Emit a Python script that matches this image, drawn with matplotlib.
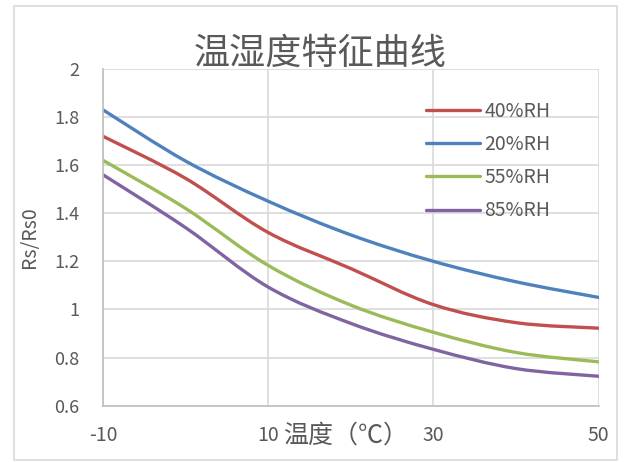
import numpy as np
import matplotlib.pyplot as plt
from matplotlib.patches import Rectangle, PathPatch
from matplotlib.path import Path
from matplotlib.lines import Line2D

plt.rcParams['font.family'] = ['Noto Sans CJK SC', 'DejaVu Sans']
plt.rcParams['axes.unicode_minus'] = False

# temperature (deg C) and Rs/Rs0 per humidity
temps = [-10, 0, 10, 20, 30, 40, 50]

rh40 = [1.72, 1.545, 1.32, 1.17, 1.02, 0.945, 0.922]
rh20 = [1.83, 1.617, 1.45, 1.31, 1.20, 1.115, 1.05]
rh55 = [1.62, 1.42, 1.183, 1.018, 0.905, 0.821, 0.782]
rh85 = [1.56, 1.34, 1.093, 0.942, 0.834, 0.754, 0.722]

series_names = ['40%RH', '20%RH', '55%RH', '85%RH']
series_vals = [rh40, rh20, rh55, rh85]
colors = ['#C0504D', '#4F81BD', '#9BBB59', '#8064A2']

xticks = [-10, 10, 30, 50]
yticks = [0.6, 0.8, 1.0, 1.2, 1.4, 1.6, 1.8, 2.0]
ytick_labels = ['0.6', '0.8', '1', '1.2', '1.4', '1.6', '1.8', '2']


def smooth_path(xs, ys):
    """excel style smoothed line: bezier segments through the data points"""
    pts = np.column_stack([xs, ys]).astype(float)
    n = len(pts)
    verts = [pts[0]]
    codes = [Path.MOVETO]
    for i in range(n - 1):
        p0 = pts[i - 1] if i > 0 else pts[i]
        p1 = pts[i]
        p2 = pts[i + 1]
        p3 = pts[i + 2] if i + 2 < n else pts[i + 1]
        verts += [p1 + (p2 - p0) / 6, p2 - (p3 - p1) / 6, p2]
        codes += [Path.CURVE4] * 3
    return Path(verts, codes)


fig = plt.figure(figsize=(6.3, 4.62), dpi=100)
ax = fig.add_axes([0.1635, 0.1221, 0.7865, 0.7286])

# chart border like excel
fig.patches.append(Rectangle((0.0222, 0.0043), 0.957, 0.983, transform=fig.transFigure,
                             fill=False, edgecolor='#D9D9D9', linewidth=1.2))

handles = []
for name, vals, c in zip(series_names, series_vals, colors):
    ax.add_patch(PathPatch(smooth_path(temps, vals), fill=False, edgecolor=c,
                           linewidth=2.4, capstyle='round'))
    handles.append(Line2D([], [], color=c, linewidth=2.4, solid_capstyle='round'))

ax.set_xlim(-10, 50)
ax.set_ylim(0.6, 2.0)
ax.set_xticks(xticks)
ax.set_yticks(yticks)
ax.set_yticklabels(ytick_labels)
ax.grid(True, color='#D9D9D9', linewidth=1.2)
ax.set_axisbelow(True)

for s in ['top', 'right']:
    ax.spines[s].set_visible(False)
for s in ['left', 'bottom']:
    ax.spines[s].set_color('#BFBFBF')
    ax.spines[s].set_linewidth(1.2)

ax.tick_params(axis='both', length=0, labelcolor='#595959')
ax.tick_params(axis='x', pad=14, labelsize=14)
ax.tick_params(axis='y', pad=17, labelsize=13)

ax.set_xlabel('温度（℃）', fontsize=18, color='#595959')
ax.xaxis.set_label_coords(0.49, -0.09)
ax.xaxis.label.set_va('center')
ax.set_ylabel('Rs/Rs0', fontsize=14, color='#595959')
ax.yaxis.set_label_coords(-0.127, 0.5)

fig.text(0.508, 0.884, '温湿度特征曲线', fontsize=26, color='#595959', ha='center', va='center')

leg = ax.legend(handles, series_names, loc='upper left', bbox_to_anchor=(0.632, 0.935),
                frameon=False, fontsize=14, handlelength=2.8, handletextpad=0.2,
                labelspacing=0.63, borderpad=0)
for t in leg.get_texts():
    t.set_color('#595959')

fig.savefig('out.png', dpi=100)
